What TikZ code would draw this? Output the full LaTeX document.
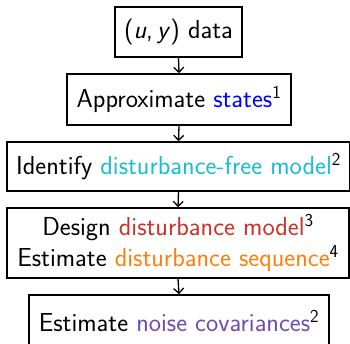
\documentclass[tikz,border=0pt]{standalone}
\usetikzlibrary{arrows.meta}
\definecolor{cstates}{RGB}{0,0,255}
\definecolor{cfree}{RGB}{23,190,207}
\definecolor{cdist}{RGB}{200,50,40}
\definecolor{cseq}{RGB}{255,127,14}
\definecolor{cnoise}{RGB}{110,75,175}
\begin{document}
\begin{tikzpicture}[x=1pt,y=-1pt,
  box/.style={draw,line width=1.6pt,inner sep=0pt,align=center,
    font=\sffamily\fontsize{26}{30.5}\selectfont},
  flow/.style={line width=1.3pt,-{Straight Barb[length=5pt,width=10pt,line width=1.3pt]}}]
\useasboundingbox (0,0) rectangle (350,344);
\node[box,minimum width=127pt,minimum height=50pt] (b1) at (178.5,32) {(\textsl{u},\,\textsl{y}) data};
\node[box,minimum width=224pt,minimum height=51pt] (b2) at (179,99.5) {Approximate \textcolor{cstates}{states}\textsuperscript{1}};
\node[box,minimum width=343pt,minimum height=49pt] (b3) at (178.5,166.5) {Identify \textcolor{cfree}{disturbance-free model}\textsuperscript{2}};
\node[box,minimum width=342pt,minimum height=70pt] (b4) at (178,243) {Design \textcolor{cdist}{disturbance model}\textsuperscript{3}\\Estimate \textcolor{cseq}{disturbance sequence}\textsuperscript{4}};
\node[box,minimum width=300pt,minimum height=52pt] (b5) at (179,321) {Estimate \textcolor{cnoise}{noise covariances}\textsuperscript{2}};
\draw[flow] (b1.south) -- (b2.north);
\draw[flow] (b2.south) -- (b3.north);
\draw[flow] (b3.south) -- (b4.north);
\draw[flow] (b4.south) -- (b5.north);
\end{tikzpicture}
\end{document}
